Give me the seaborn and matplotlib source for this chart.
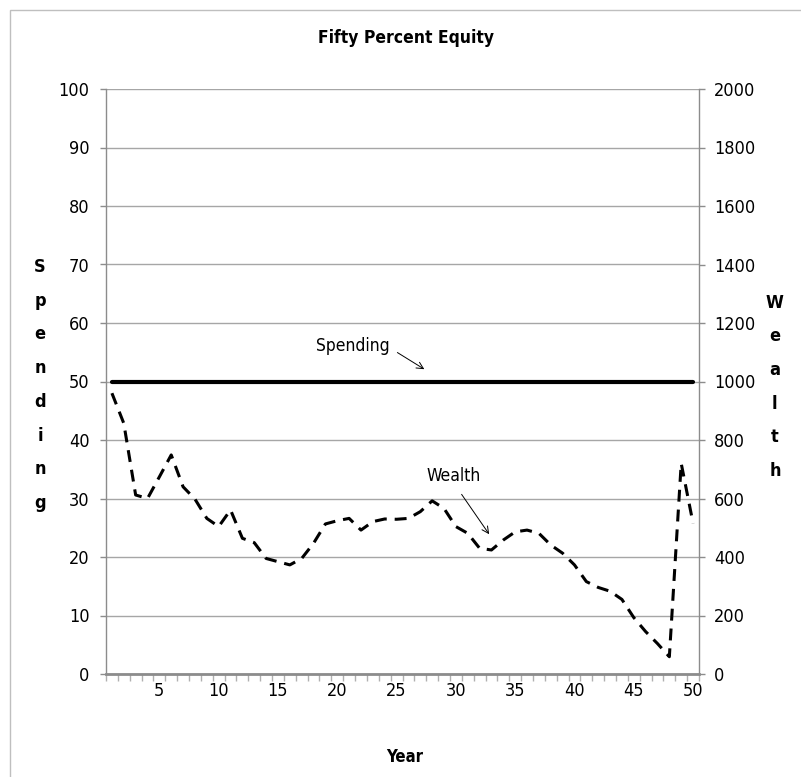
import matplotlib
matplotlib.use("Agg")
import matplotlib.pyplot as plt
import numpy as np
import pandas as pd
import seaborn as sns
from matplotlib import font_manager
from matplotlib.patches import Rectangle

# Data
years = list(range(1, 51))
spending = [50] * 50
wealth = [960, 857, 612, 600, 674, 749, 640, 598, 532, 504,
          561, 464, 449, 395, 384, 373, 395, 447, 513, 524,
          532, 492, 521, 530, 529, 532, 555, 592, 566, 504,
          481, 430, 424, 458, 486, 492, 481, 441, 413, 373,
          316, 296, 283, 255, 193, 145, 104, 59, 720, 515]
year_ticks = [5, 10, 15, 20, 25, 30, 35, 40, 45, 50]
left_ticks = list(range(0, 101, 10))
right_ticks = list(range(0, 2001, 200))

df = pd.DataFrame({"year": years, "spending": spending, "wealth": wealth})

sns.set_theme(style="white")

# pick a narrow font if one is around (the original uses Calibri)
fonts = font_manager.fontManager.ttflist
names = {f.name for f in fonts}
condensed = [f for f in fonts if f.name == "DejaVu Sans" and "ondensed" in str(f.stretch) + f.fname]
if "Liberation Sans Narrow" in names:
    plt.rcParams["font.family"] = ["Liberation Sans Narrow", "DejaVu Sans"]
    fs = 15
elif condensed:
    plt.rcParams["font.family"] = ["DejaVu Sans"]
    plt.rcParams["font.stretch"] = "condensed"
    fs = 13
else:
    plt.rcParams["font.family"] = ["Lato", "DejaVu Sans"]
    fs = 14
plt.rcParams["text.color"] = "black"
plt.rcParams["axes.labelcolor"] = "black"

grey = "#8c8c8c"

fig = plt.figure(figsize=(8.01, 7.77), dpi=100)
ax = fig.add_axes([106 / 801, 103 / 777, 593 / 801, 585 / 777])
ax2 = ax.twinx()

sns.lineplot(data=df, x="year", y="spending", ax=ax, color="black", lw=3.0)
sns.lineplot(data=df, x="year", y="wealth", ax=ax2, color="black", lw=2.2,
             linestyle=(0, (3.9, 2.6)))

ax.set_xlim(0.5, 50.5)
ax.set_ylim(0, 100)
ax2.set_ylim(0, 2000)
ax.set_yticks(left_ticks)
ax2.set_yticks(right_ticks)
ax.set_xticks(year_ticks)
ax.set_xticks(np.arange(0.5, 51, 1), minor=True)

ax.grid(axis="y", color="#a6a6a6", lw=1)
ax2.grid(False)

for a in (ax, ax2):
    for s in a.spines.values():
        s.set_visible(False)
ax.spines["left"].set_visible(True)
ax.spines["left"].set_color(grey)
ax.spines["left"].set_linewidth(1)
ax.spines["bottom"].set_visible(True)
ax.spines["bottom"].set_color(grey)
ax.spines["bottom"].set_linewidth(2)
ax2.spines["right"].set_visible(True)
ax2.spines["right"].set_color(grey)
ax2.spines["right"].set_linewidth(1)

ax.tick_params(axis="y", which="major", left=True, length=4.3, width=1, color=grey,
               labelsize=fs, pad=7.5, labelcolor="black")
ax.tick_params(axis="x", which="major", bottom=False, length=0, labelsize=fs, pad=6,
               labelcolor="black")
ax.tick_params(axis="x", which="minor", bottom=True, length=5, width=1, color="#b0b0b0")
ax2.tick_params(axis="y", which="major", right=True, length=4.3, width=1, color=grey,
                labelsize=fs, pad=6.5, labelcolor="black")

ax.set_xlabel("Year", fontsize=fs - 1, fontweight="bold")
ax.xaxis.set_label_coords(0.5 + 2.5 / 593, -0.1265)
ax.set_ylabel("\n".join("Spending"), fontsize=fs, fontweight="bold", rotation=0,
              ha="center", va="center", linespacing=2.12)
ax.yaxis.set_label_coords(-0.111, 0.494)
ax2.set_ylabel("\n".join("Wealth"), fontsize=fs, fontweight="bold", rotation=0,
               ha="center", va="center", linespacing=2.12)
ax2.yaxis.set_label_coords(1.128, 0.491)

fig.text(406 / 801, 1 - 38 / 777, "Fifty Percent Equity", fontsize=fs - 0.5,
         fontweight="bold", ha="center", va="center")

# Annotations
ax.annotate("", xy=(27.54, 51.85), xytext=(24.87, 55.2),
            arrowprops=dict(arrowstyle="->", color="black", lw=0.7))
ax.text(21.3, 56.1, "Spending", fontsize=fs - 0.5, ha="center", va="center")
ax.annotate("", xy=(32.94, 23.5), xytext=(30.35, 31.1),
            arrowprops=dict(arrowstyle="->", color="black", lw=0.7))
ax.text(29.84, 33.8, "Wealth", fontsize=fs - 0.5, ha="center", va="center")

# Chart frame
fig.patches.append(Rectangle((10 / 801, -0.05), 1.0, 1 - 10 / 777 + 0.05,
                             transform=fig.transFigure, fill=False,
                             edgecolor="#bfbfbf", lw=1))

fig.savefig("out.png", dpi=100)
